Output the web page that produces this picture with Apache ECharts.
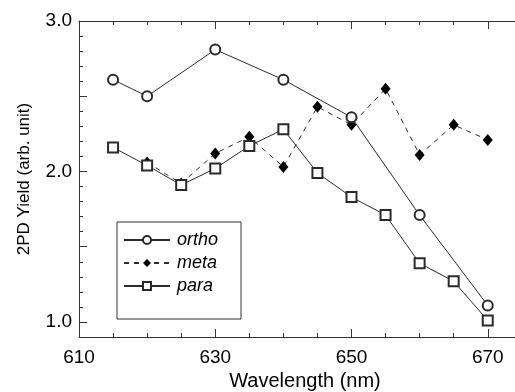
<!DOCTYPE html>
<html>
<head>
<meta charset="utf-8">
<script src="https://cdn.jsdelivr.net/npm/echarts@6/dist/echarts.min.js"></script>
<style>
html,body{margin:0;padding:0;background:#fff;}
#c{width:515px;height:392px;}
</style>
</head>
<body>
<div id="c"></div>
<script>
// ---- data ----
var orthoX = [615, 620, 630, 640, 650, 660, 670];
var orthoY = [2.61, 2.50, 2.81, 2.61, 2.36, 1.71, 1.11];
var metaX = [620, 625, 630, 635, 640, 645, 650, 655, 660, 665, 670];
var metaY = [2.06, 1.92, 2.12, 2.23, 2.03, 2.43, 2.31, 2.55, 2.11, 2.31, 2.21];
var paraX = [615, 620, 625, 630, 635, 640, 645, 650, 655, 660, 665, 670];
var paraY = [2.16, 2.04, 1.91, 2.02, 2.17, 2.28, 1.99, 1.83, 1.71, 1.39, 1.27, 1.01];
var xLabelValues = [610, 630, 650, 670];
var xMinorTicks = [610, 615, 620, 625, 630, 635, 640, 645, 650, 655, 660, 665, 670];
var yLabelValues = [1.0, 2.0, 3.0];
var yMajorTicks = [1.0, 1.5, 2.0, 2.5, 3.0];
var yMinorTicks = [0.9, 1.0, 1.1, 1.2, 1.3, 1.4, 1.5, 1.6, 1.7, 1.8, 1.9, 2.0, 2.1, 2.2, 2.3, 2.4, 2.5, 2.6, 2.7, 2.8, 2.9, 3.0];
var seriesNames = ['ortho', 'meta', 'para'];
var xTitle = 'Wavelength (nm)';
var yTitle = '2PD Yield (arb. unit)';

function pairs(xs, ys) { return xs.map(function (x, i) { return [x, ys[i]]; }); }

var FONT = '"Liberation Sans", Arial, Helvetica, sans-serif';
var AX = '#333';
var LN = '#2a2a2a';
var X_MIN = 610, X_MAX = 674, Y_MIN = 0.9, Y_MAX = 3.0;

function xAxisDef(pos, opts) {
  var base = {
    type: 'value', position: pos, min: X_MIN, max: X_MAX, interval: 5,
    splitLine: { show: false },
    axisLine: { show: true, onZero: false, lineStyle: { color: AX, width: 1 } },
    axisTick: { show: true, inside: true, length: 8, customValues: xLabelValues, lineStyle: { color: AX } },
    axisLabel: { show: false }
  };
  return Object.assign(base, opts || {});
}
function yAxisDef(opts) {
  var base = {
    type: 'value', position: 'left', min: Y_MIN, max: Y_MAX, interval: 0.1,
    splitLine: { show: false },
    axisLine: { show: true, onZero: false, lineStyle: { color: AX, width: 1 } },
    axisTick: { show: true, inside: true, length: 8, customValues: yMajorTicks, lineStyle: { color: AX } },
    axisLabel: { show: false }
  };
  return Object.assign(base, opts || {});
}

var chart = echarts.init(document.getElementById('c'), null, { renderer: 'canvas' });
chart.setOption({
  animation: false,
  backgroundColor: '#fff',
  textStyle: { fontFamily: FONT },
  grid: { left: 79, top: 21, right: 0, bottom: 55, containLabel: false, outerBoundsMode: 'none' },
  legend: {
    orient: 'vertical', left: 117, top: 222,
    padding: [9, 23, 24, 6],
    itemGap: 5, itemWidth: 46, itemHeight: 10,
    borderColor: '#333', borderWidth: 1,
    textStyle: { fontFamily: FONT, fontSize: 18, fontStyle: 'italic', color: '#000', padding: [0, 0, 0, 2] },
    data: seriesNames
  },
  xAxis: [
    xAxisDef('bottom', {
      name: xTitle, nameLocation: 'middle', nameGap: 31,
      nameTextStyle: { fontFamily: FONT, fontSize: 20, color: '#000', padding: [0, 0, 0, 16] },
      axisLabel: { show: true, customValues: xLabelValues, margin: 11, fontFamily: FONT, fontSize: 19, color: '#000' }
    }),
    xAxisDef('bottom', { axisLine: { show: false }, axisTick: { show: true, inside: true, length: 4, customValues: xMinorTicks, lineStyle: { color: AX } } }),
    xAxisDef('top'),
    xAxisDef('top', { axisLine: { show: false }, axisTick: { show: true, inside: true, length: 4, customValues: xMinorTicks, lineStyle: { color: AX } } })
  ],
  yAxis: [
    yAxisDef({
      name: yTitle, nameLocation: 'middle', nameGap: 46, nameRotate: 90,
      nameTextStyle: { fontFamily: FONT, fontSize: 17, color: '#000' },
      axisLabel: { show: true, customValues: yLabelValues, margin: 7, fontFamily: FONT, fontSize: 19, color: '#000',
        formatter: function (v) { return Number(v).toFixed(1); } }
    }),
    yAxisDef({ axisLine: { show: false }, axisTick: { show: true, inside: true, length: 4, customValues: yMinorTicks, lineStyle: { color: AX } } })
  ],
  series: [
    {
      name: seriesNames[0], type: 'line', xAxisIndex: 0, yAxisIndex: 0,
      data: pairs(orthoX, orthoY),
      symbol: 'emptyCircle', symbolSize: 10,
      lineStyle: { color: LN, width: 1, type: 'solid' },
      itemStyle: { color: LN, borderColor: LN, borderWidth: 0.8 },
      z: 3
    },
    {
      name: seriesNames[1], type: 'line', xAxisIndex: 0, yAxisIndex: 0,
      data: pairs(metaX, metaY),
      symbol: 'diamond', symbolSize: [10, 12],
      lineStyle: { color: LN, width: 1, type: [5, 5] },
      itemStyle: { color: '#000', borderColor: '#000', borderWidth: 0 },
      z: 2
    },
    {
      name: seriesNames[2], type: 'line', xAxisIndex: 0, yAxisIndex: 0,
      data: pairs(paraX, paraY),
      symbol: 'emptyRect', symbolSize: 10,
      lineStyle: { color: LN, width: 1, type: 'solid' },
      itemStyle: { color: LN, borderColor: LN, borderWidth: 0.8 },
      z: 3
    }
  ]
});
</script>
</body>
</html>
